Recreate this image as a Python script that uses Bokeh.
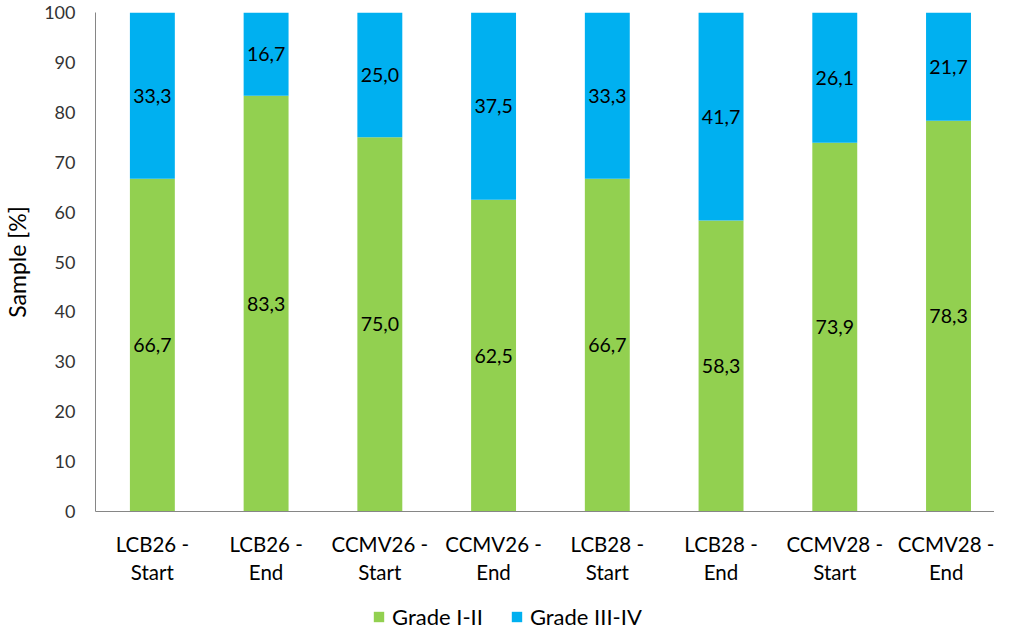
from bokeh.plotting import figure
from bokeh.models import Legend, LegendItem, ColumnDataSource, FixedTicker, Range1d
from bokeh.layouts import column
from bokeh.core.properties import value
from bokeh.embed import file_html
from bokeh.resources import INLINE

categories = ["LCB26 -\nStart", "LCB26 -\nEnd", "CCMV26 -\nStart", "CCMV26 -\nEnd",
              "LCB28 -\nStart", "LCB28 -\nEnd", "CCMV28 -\nStart", "CCMV28 -\nEnd"]
grade_1_2 = [66.7, 83.3, 75.0, 62.5, 66.7, 58.3, 73.9, 78.3]
grade_3_4 = [33.3, 16.7, 25.0, 37.5, 33.3, 41.7, 26.1, 21.7]
series_names = ["Grade I-II", "Grade III-IV"]
colors = ["#92D050", "#00B0F0"]
y_ticks = list(range(0, 101, 10))

FONT = "Lato"
xs = list(range(len(categories)))

p = figure(width=994, height=590, output_backend="svg", toolbar_location=None,
           x_range=Range1d(-0.5, -0.5 + 909 / 115), y_range=Range1d(0, 100),
           min_border_left=85, min_border_top=12, min_border_right=0, min_border_bottom=79)
p.outline_line_color = None
p.xgrid.grid_line_color = None
p.ygrid.grid_line_color = None

src = ColumnDataSource(dict(x=xs, g12=grade_1_2, g34=grade_3_4))
rs = p.vbar_stack(["g12", "g34"], x="x", width=0.395, source=src, color=colors, line_color=None)

# data labels
lab_x, lab_y, lab_t = [], [], []
for i, (a, b) in enumerate(zip(grade_1_2, grade_3_4)):
    lab_x += [i, i]
    lab_y += [a / 2, a + b / 2]
    lab_t += [f"{a:.1f}".replace(".", ","), f"{b:.1f}".replace(".", ",")]
p.text(x=lab_x, y=lab_y, text=lab_t, text_align="center", text_baseline="middle",
       text_font=value(FONT), text_font_size="19.5px", text_color="#000000")

# axes
for ax in (p.xaxis[0], p.yaxis[0]):
    ax.axis_line_color = "#868686"
    ax.axis_line_width = 1
    ax.major_tick_line_color = None
    ax.minor_tick_line_color = None
    ax.major_tick_out = 0
    ax.major_tick_in = 0
    ax.major_label_text_font = FONT
    ax.major_label_text_color = "#333333"

p.yaxis.ticker = FixedTicker(ticks=y_ticks)
p.yaxis.major_label_text_font_size = "18px"
p.yaxis.major_label_standoff = 20
p.yaxis.axis_label = "Sample [%]"
p.yaxis.axis_label_text_font = FONT
p.yaxis.axis_label_text_font_style = "normal"
p.yaxis.axis_label_text_font_size = "23px"
p.yaxis.axis_label_text_color = "#000000"
p.yaxis.axis_label_standoff = 10

p.xaxis.ticker = FixedTicker(ticks=xs)
p.xaxis.major_label_overrides = {i: c for i, c in enumerate(categories)}
p.xaxis.major_label_text_font_size = "20.5px"
p.xaxis.major_label_text_color = "#000000"
p.xaxis.major_label_standoff = 20

# legend strip below the chart
pl = figure(width=994, height=40, output_backend="svg", toolbar_location=None,
            x_range=Range1d(0, 1), y_range=Range1d(0, 1),
            x_axis_location=None, y_axis_location=None,
            min_border=0, min_border_left=0, min_border_right=0,
            min_border_top=0, min_border_bottom=0)
pl.outline_line_color = None
pl.xgrid.grid_line_color = None
pl.ygrid.grid_line_color = None
dummies = [pl.rect(x=[-5], y=[-5], width=1, height=1, fill_color=c, line_color=None)
           for c in colors]

legend = Legend(items=[LegendItem(label=n, renderers=[r]) for n, r in zip(series_names, dummies)],
                orientation="horizontal", location=(277, 0),
                glyph_width=13, glyph_height=13, label_standoff=7, spacing=27,
                padding=0, margin=0, border_line_color=None, background_fill_alpha=0,
                label_text_font=FONT, label_text_font_size="22px", label_text_color="#000000")
pl.add_layout(legend, "center")

layout = column(p, pl, spacing=0)
open("out.html", "w").write(file_html(layout, INLINE))
